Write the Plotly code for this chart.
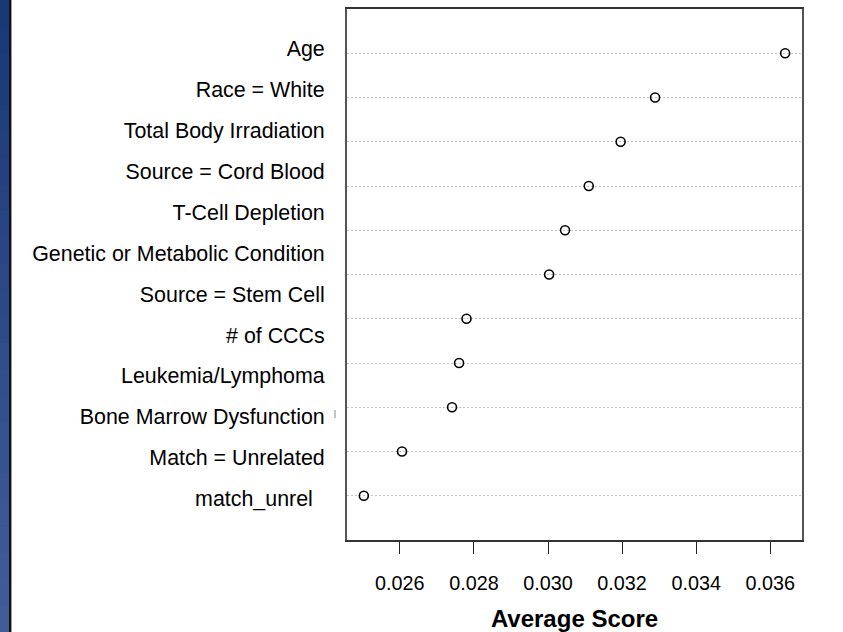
import plotly.graph_objects as go

# ---- data ----
labels = ["Age", "Race = White", "Total Body Irradiation", "Source = Cord Blood",
          "T-Cell Depletion", "Genetic or Metabolic Condition", "Source = Stem Cell",
          "# of CCCs", "Leukemia/Lymphoma", "Bone Marrow Dysfunction",
          "Match = Unrelated", "match_unrel\u00a0\u00a0"]
scores = [0.03640, 0.03289, 0.03196, 0.03110, 0.03046, 0.03003,
          0.02780, 0.02760, 0.02741, 0.02606, 0.02503]
x_ticks = [0.026, 0.028, 0.030, 0.032, 0.034, 0.036]
x_ticktext = ["0.026", "0.028", "0.030", "0.032", "0.034", "0.036"]
x_title = "Average Score"

W, H = 843, 632
L, R, T, B = 347, 41, 9, 92
pw = W - L - R
ph = H - T - B

n = len(scores)
ypos = [n - i for i in range(n)]          # 11 .. 1
lab_pos = [len(labels) - i for i in range(len(labels))]  # 12 .. 1

fig = go.Figure()
fig.add_trace(go.Scatter(
    x=scores, y=ypos, mode="markers",
    marker=dict(symbol="circle-open", size=9, color="black", line=dict(width=1.6)),
    showlegend=False, hoverinfo="x"))
# invisible trace carrying the label axis
fig.add_trace(go.Scatter(x=[None] * len(labels), y=lab_pos, yaxis="y2",
                         mode="markers", showlegend=False, hoverinfo="skip"))

xmin = min(scores) - 0.04 * (max(scores) - min(scores))
xmax = max(scores) + 0.04 * (max(scores) - min(scores))

fig.update_layout(
    width=W, height=H,
    margin=dict(l=L, r=R, t=T, b=B, autoexpand=False),
    paper_bgcolor="white", plot_bgcolor="white",
    font=dict(family="Liberation Sans, Arial, sans-serif", color="black"),
    xaxis=dict(range=[xmin, xmax], tickvals=x_ticks, ticktext=x_ticktext,
               ticks="outside", ticklen=12, tickwidth=1.3, tickcolor="#222",
               tickfont=dict(size=19.8), ticklabelstandoff=12, automargin=False,
               showgrid=False, zeroline=False,
               showline=True, mirror=True, linecolor="#333", linewidth=1.6,
               title=dict(text="<b>" + x_title + "</b>", font=dict(size=24), standoff=23)),
    yaxis=dict(range=[0, n + 1], tickvals=ypos, showticklabels=False, ticks="",
               showgrid=True, gridcolor="#c4c4c4", griddash="2px,2px", gridwidth=1,
               zeroline=False, showline=True, mirror=True, automargin=False,
               linecolor="#555", linewidth=1.6),
    yaxis2=dict(overlaying="y", side="left", range=[-0.011, 12.969],
                tickvals=lab_pos, ticktext=labels, ticks="outside", ticklen=17,
                tickcolor="rgba(0,0,0,0)", tickfont=dict(size=21.4), automargin=False,
                showgrid=False, zeroline=False, showline=False),
)

def px_x(p):
    return (p - L) / pw

def px_y(p):
    return (H - B - p) / ph

# left decorative blue strip (gradient)
steps = 24
c0, c1 = (24, 56, 118), (66, 92, 152)
for k in range(steps):
    f = k / (steps - 1)
    col = tuple(int(round(c0[j] + (c1[j] - c0[j]) * f)) for j in range(3))
    fig.add_shape(type="rect", xref="paper", yref="paper",
                  x0=px_x(0), x1=px_x(9),
                  y0=px_y(H * (k + 1) / steps + 2), y1=px_y(H * k / steps),
                  line=dict(width=0), fillcolor="rgb(%d,%d,%d)" % col, layer="below")
fig.add_shape(type="rect", xref="paper", yref="paper",
              x0=px_x(9), x1=px_x(11), y0=px_y(H), y1=px_y(0),
              line=dict(width=0), fillcolor="#111111")
fig.add_shape(type="rect", xref="paper", yref="paper",
              x0=px_x(11), x1=px_x(12), y0=px_y(H), y1=px_y(0),
              line=dict(width=0), fillcolor="#9a9a9a")
# small stray mark next to a label in the original
fig.add_shape(type="line", xref="paper", yref="paper",
              x0=px_x(335), x1=px_x(335), y0=px_y(418), y1=px_y(410),
              line=dict(width=1, color="#888888"))

fig.write_html("out.html", config={"displayModeBar": False},
               post_script="document.body.style.margin='0';")
